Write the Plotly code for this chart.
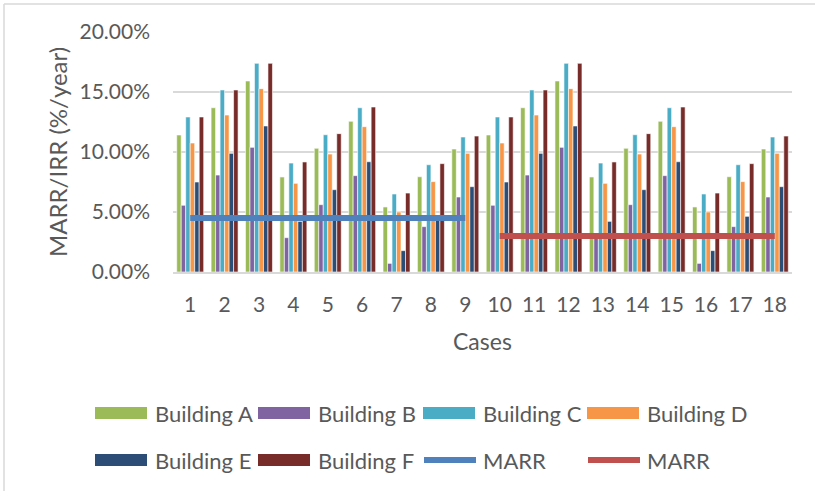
import plotly.graph_objects as go

cases = [str(i) for i in range(1, 19)]

building_a = [11.42, 13.69, 15.92, 7.92, 10.31, 12.56, 5.42, 7.94, 10.25,
              11.42, 13.69, 15.92, 7.92, 10.31, 12.56, 5.42, 7.94, 10.25]
building_b = [5.56, 8.08, 10.39, 2.86, 5.61, 8.03, 0.72, 3.78, 6.25,
              5.56, 8.08, 10.39, 2.86, 5.61, 8.03, 0.72, 3.78, 6.25]
building_c = [12.92, 15.17, 17.39, 9.08, 11.44, 13.69, 6.50, 8.94, 11.25,
              12.92, 15.17, 17.39, 9.08, 11.44, 13.69, 6.50, 8.94, 11.25]
building_d = [10.75, 13.08, 15.28, 7.39, 9.83, 12.11, 5.00, 7.53, 9.89,
              10.75, 13.08, 15.28, 7.39, 9.83, 12.11, 5.00, 7.53, 9.89]
building_e = [7.50, 9.89, 12.17, 4.22, 6.86, 9.19, 1.78, 4.64, 7.11,
              7.50, 9.89, 12.17, 4.22, 6.86, 9.19, 1.78, 4.64, 7.11]
building_f = [12.92, 15.17, 17.39, 9.17, 11.53, 13.75, 6.58, 9.03, 11.33,
              12.92, 15.17, 17.39, 9.17, 11.53, 13.75, 6.58, 9.03, 11.33]

marr1_cases = cases[:9]
marr1_values = [4.5] * 9
marr2_cases = cases[9:]
marr2_values = [3.0] * 9

y_tickvals = [0, 5, 10, 15, 20]
y_ticktext = ["0.00%", "5.00%", "10.00%", "15.00%", "20.00%"]

bar_names = ["Building A", "Building B", "Building C", "Building D", "Building E", "Building F"]
bar_values = [building_a, building_b, building_c, building_d, building_e, building_f]
bar_colors = ["#9BBB59", "#8064A2", "#4BACC6", "#F79646", "#2C4D75", "#772C2A"]
marr_names = ["MARR", "MARR"]
marr_colors = ["#4F81BD", "#C0504D"]

x_title = "Cases"
y_title = "MARR/IRR (%/year)"

FONT = "Lato"
TXT = "#595959"

fig = go.Figure()
for name, vals, col in zip(bar_names, bar_values, bar_colors):
    fig.add_trace(go.Bar(
        x=cases, y=vals, name=name, showlegend=False,
        marker=dict(color=col, line=dict(color="white", width=0.6)),
    ))

fig.add_trace(go.Scatter(x=marr1_cases, y=marr1_values, name=marr_names[0], mode="lines",
                         line=dict(color=marr_colors[0], width=6), showlegend=False))
fig.add_trace(go.Scatter(x=marr2_cases, y=marr2_values, name=marr_names[1], mode="lines",
                         line=dict(color=marr_colors[1], width=6), showlegend=False))

L, R, T, B = 173, 23, 32, 219
W, H = 815, 491
pw = W - L - R
ph = H - T - B

def px_x(x):
    return (x - L) / pw

def px_y(y):
    return (H - B - y) / ph

# ---- custom legend (two rows of four entries) ----
col_starts = [95, 258, 423, 587]
row_ys = [413, 460]
sw_w, sw_h, txt_gap = 52, 12, 6
entries = [(n, c, "bar") for n, c in zip(bar_names, bar_colors)] + \
          [(n, c, "line") for n, c in zip(marr_names, marr_colors)]

shapes = [
    dict(type="line", xref="paper", yref="paper",
         x0=px_x(4), x1=px_x(815), y0=px_y(4), y1=px_y(4),
         line=dict(color="#D9D9D9", width=1.5)),
    dict(type="line", xref="paper", yref="paper",
         x0=px_x(4), x1=px_x(4), y0=px_y(4), y1=px_y(491),
         line=dict(color="#D9D9D9", width=1.5)),
]
annotations = []
for i, (name, col, kind) in enumerate(entries):
    x0 = col_starts[i % 4]
    yc = row_ys[i // 4]
    if kind == "bar":
        shapes.append(dict(type="rect", xref="paper", yref="paper",
                           x0=px_x(x0), x1=px_x(x0 + sw_w),
                           y0=px_y(yc - sw_h / 2), y1=px_y(yc + sw_h / 2),
                           fillcolor=col, line=dict(width=0)))
    else:
        shapes.append(dict(type="line", xref="paper", yref="paper",
                           x0=px_x(x0 + 1), x1=px_x(x0 + sw_w + 1),
                           y0=px_y(yc), y1=px_y(yc),
                           line=dict(color=col, width=6)))
    annotations.append(dict(xref="paper", yref="paper", x=px_x(x0 + sw_w + txt_gap), y=px_y(yc),
                            xanchor="left", yanchor="middle", showarrow=False, text=name,
                            font=dict(family=FONT, size=22, color=TXT)))

# axis titles
annotations.append(dict(xref="paper", yref="paper", x=0.5, y=px_y(341),
                        xanchor="center", yanchor="middle", showarrow=False, text=x_title,
                        font=dict(family=FONT, size=23, color=TXT)))
annotations.append(dict(xref="paper", yref="paper", x=px_x(57), y=0.5, textangle=-90,
                        xanchor="center", yanchor="middle", showarrow=False, text=y_title,
                        font=dict(family=FONT, size=24, color=TXT)))

fig.update_layout(
    width=W, height=H,
    margin=dict(l=L, r=R, t=T, b=B, autoexpand=False),
    paper_bgcolor="white", plot_bgcolor="white",
    barmode="group", bargap=0.215, bargroupgap=0,
    font=dict(family=FONT, color=TXT),
    showlegend=False,
    xaxis=dict(
        type="category", showgrid=False, zeroline=False,
        showline=True, linecolor="#D9D9D9", linewidth=1.5,
        ticks="", tickfont=dict(family=FONT, size=21, color=TXT),
        ticklabelstandoff=13,
    ),
    yaxis=dict(
        range=[0, 20], tickmode="array", tickvals=y_tickvals, ticktext=y_ticktext,
        showgrid=True, gridcolor="#D9D9D9", gridwidth=1.5, zeroline=False,
        showline=False, ticks="",
        tickfont=dict(family=FONT, size=21, color=TXT),
        ticklabelstandoff=22,
    ),
    shapes=shapes,
    annotations=annotations,
)

fig.write_html("out.html",
               config={"displayModeBar": False},
               post_script="document.body.style.margin='0px';document.body.style.overflow='hidden';")
